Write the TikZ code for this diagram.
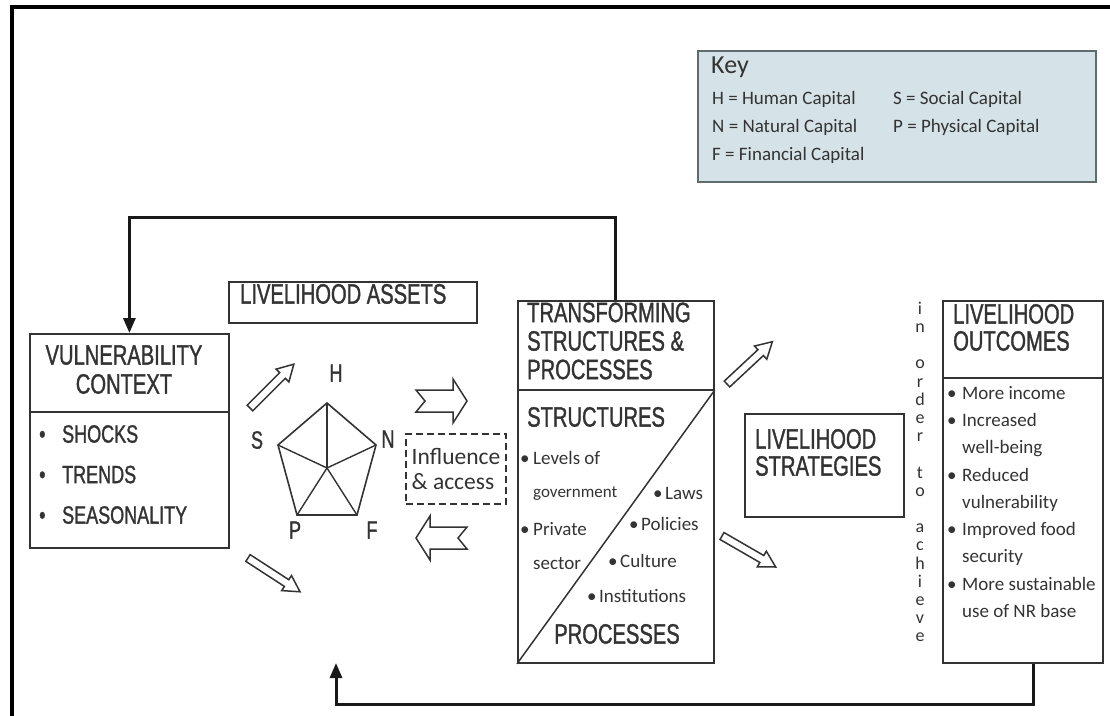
\documentclass[tikz,border=0pt]{standalone}
\usepackage{fontspec}
\setmainfont{Carlito}
\newfontfamily\headfont[FakeStretch=0.72,FakeBold=1.2]{Liberation Sans}
\usetikzlibrary{arrows.meta}
\definecolor{ink}{HTML}{333333}
\definecolor{keyfill}{HTML}{D5E3E8}
\definecolor{keyline}{HTML}{5E6C70}
\newcommand{\bul}[1][12pt]{\makebox[#1][l]{\textbullet}}
\tikzset{
  boxline/.style={draw=ink, line width=1.8pt},
  bigbox/.style={boxline, rectangle, inner sep=0pt, anchor=north west},
  head/.style={inner sep=0pt, text=ink, anchor=west, text height=.72em, text depth=0pt, font=\fontsize{28}{30}\headfont},
  capitem/.style={head, font=\fontsize{25}{27}\headfont},
  item/.style={inner sep=0pt, text=ink, anchor=west, text height=.66em, text depth=.2em, font=\fontsize{19}{21}\selectfont},
  feedback/.style={draw=black!90, line width=3pt, -{Triangle[length=15pt,width=12pt]}},
  thinarrow/.pic={\draw[boxline, line width=1.5pt, line join=miter] (0,-4) -- (46,-4) -- (46,-9) -- (62,0) -- (46,9) -- (46,4) -- (0,4) -- cycle;},
  notcharrow/.pic={\draw[boxline, line width=1.5pt, line join=miter] (0,-11) -- (37,-11) -- (37,-22) -- (51,0) -- (37,22) -- (37,11) -- (0,11) -- (9,0) -- cycle;},
}
\begin{document}
\begin{tikzpicture}[x=1pt,y=-1pt]
\useasboundingbox (0,0) rectangle (1110,715);
\draw[line width=4pt] (12,716) -- (12,7) -- (1112,7);

\node[bigbox, draw=keyline, fill=keyfill, line width=2pt, minimum width=398, minimum height=131] (key) at (697,50) {};
\node[item, font=\fontsize{26}{28}\selectfont] (keyt) at (711,71) {Key};
\node[item] (kH) at (712,102) {H = Human Capital};
\node[item] (kN) at (712,130) {N = Natural Capital};
\node[item] (kF) at (712,158) {F = Financial Capital};
\node[item] (kS) at (893,102) {S = Social Capital};
\node[item] (kP) at (893,130) {P = Physical Capital};

\node[bigbox, minimum width=199, minimum height=214] (vuln) at (29,333) {};
\draw[boxline] ([yshift=-79pt]vuln.north west) -- ([yshift=-79pt]vuln.north east);
\node[head, anchor=center] (vuln1) at (124,361) {VULNERABILITY};
\node[head, anchor=center] (vuln2) at (124,390) {CONTEXT};
\foreach \t [count=\i] in {SHOCKS,TRENDS,SEASONALITY}
  \node[capitem] (vc\i) at (39,398.5+40.5*\i) {\bul[23pt]\t};

\node[bigbox, minimum width=248, minimum height=41] (assets) at (228,281) {};
\node[head] (assetst) at (240,300) {LIVELIHOOD ASSETS};

\coordinate (pH) at (327,403);
\coordinate (pN) at (376,445);
\coordinate (pF) at (357,515);
\coordinate (pP) at (297,515);
\coordinate (pS) at (278,445);
\coordinate (pO) at (327,468);
\draw[boxline, line width=1.6pt, line join=miter] (pH) -- (pN) -- (pF) -- (pP) -- (pS) -- cycle;
\foreach \v in {H,N,F,P,S}
  \draw[boxline, line width=1.4pt] (pO) -- (p\v);
\node[capitem, anchor=center] (lH) at (336,378) {H};
\node[capitem, anchor=center] (lS) at (257,445) {S};
\node[capitem, anchor=center] (lN) at (388,444) {N};
\node[capitem, anchor=center] (lP) at (295,535) {P};
\node[capitem, anchor=center] (lF) at (372,535) {F};

\pic[rotate=45] at (250,408) {thinarrow};
\pic[rotate=-33] at (248,558) {thinarrow};
\pic at (416,401) {notcharrow};
\pic[xscale=-1] at (467,538) {notcharrow};

\node[draw=ink, line width=2.5pt, dash pattern=on 7pt off 4pt, minimum width=100, minimum height=70, inner sep=0pt, align=left, text=ink, font=\fontsize{23.5}{25}\selectfont] (infl) at (456,469) {Influence\\\& access};

\node[bigbox, minimum width=196, minimum height=362] (tsp) at (517,300) {};
\draw[boxline] ([yshift=-90pt]tsp.north west) -- ([yshift=-90pt]tsp.north east);
\draw[boxline, line width=1.5pt] (tsp.south west) -- ([yshift=-90pt]tsp.north east);
\foreach \t [count=\i] in {TRANSFORMING,STRUCTURES \&,PROCESSES}
  \node[head] (tsp\i) at (527,290+28.5*\i) {\t};
\node[head] (struct) at (527,423) {STRUCTURES};
\node[head, anchor=center] (proc) at (617,640) {PROCESSES};
\node[item] (s1) at (520,462) {\bul[13pt]Levels of};
\node[item, font=\fontsize{17}{19}\selectfont] (s2) at (533,495) {government};
\node[item] (s3) at (520,533) {\bul[13pt]Private};
\node[item] (s4) at (533,567) {sector};
\node[item] (r1) at (653,497) {\bul[12pt]Laws};
\node[item] (r2) at (629,528) {\bul[12pt]Policies};
\node[item] (r3) at (608,565) {\bul[12pt]Culture};
\node[item] (r4) at (587,600) {\bul[12pt]Institutions};

\pic[rotate=43] at (727,384) {thinarrow};
\pic[rotate=-30] at (722,536) {thinarrow};

\node[bigbox, minimum width=159, minimum height=103] (strat) at (744,413) {};
\node[head] (strat1) at (755,445) {LIVELIHOOD};
\node[head] (strat2) at (755,472) {STRATEGIES};

\foreach \c [count=\i] in {i,n,{},o,r,d,e,r,{},t,o,{},a,c,h,i,e,v,e}
  \node[item, anchor=center, font=\fontsize{18}{20}\selectfont] (ord\i) at (920,293.8+18.2*\i) {\c};

\node[bigbox, minimum width=160, minimum height=362] (outc) at (942,300) {};
\draw[boxline] ([yshift=-78pt]outc.north west) -- ([yshift=-78pt]outc.north east);
\node[head] (outc1) at (953,320) {LIVELIHOOD};
\node[head] (outc2) at (953,347) {OUTCOMES};
\foreach \t [count=\i] in {{\bul[15pt]More income},{\bul[15pt]Increased},{\hspace{15pt}well-being},{\bul[15pt]Reduced},{\hspace{15pt}vulnerability},{\bul[15pt]Improved food},{\hspace{15pt}security},{\bul[15pt]More sustainable},{\hspace{15pt}use of NR base}}
  \node[item] (oc\i) at (947,369.75+27.25*\i) {\t};

\coordinate (ret) at (336,663);
\draw[feedback] (tsp.north) -- ++(0,-83) -| (vuln.north);
\draw[feedback] ([xshift=11pt]outc.south) -- ++(0,41) -| (ret);
\end{tikzpicture}
\end{document}
